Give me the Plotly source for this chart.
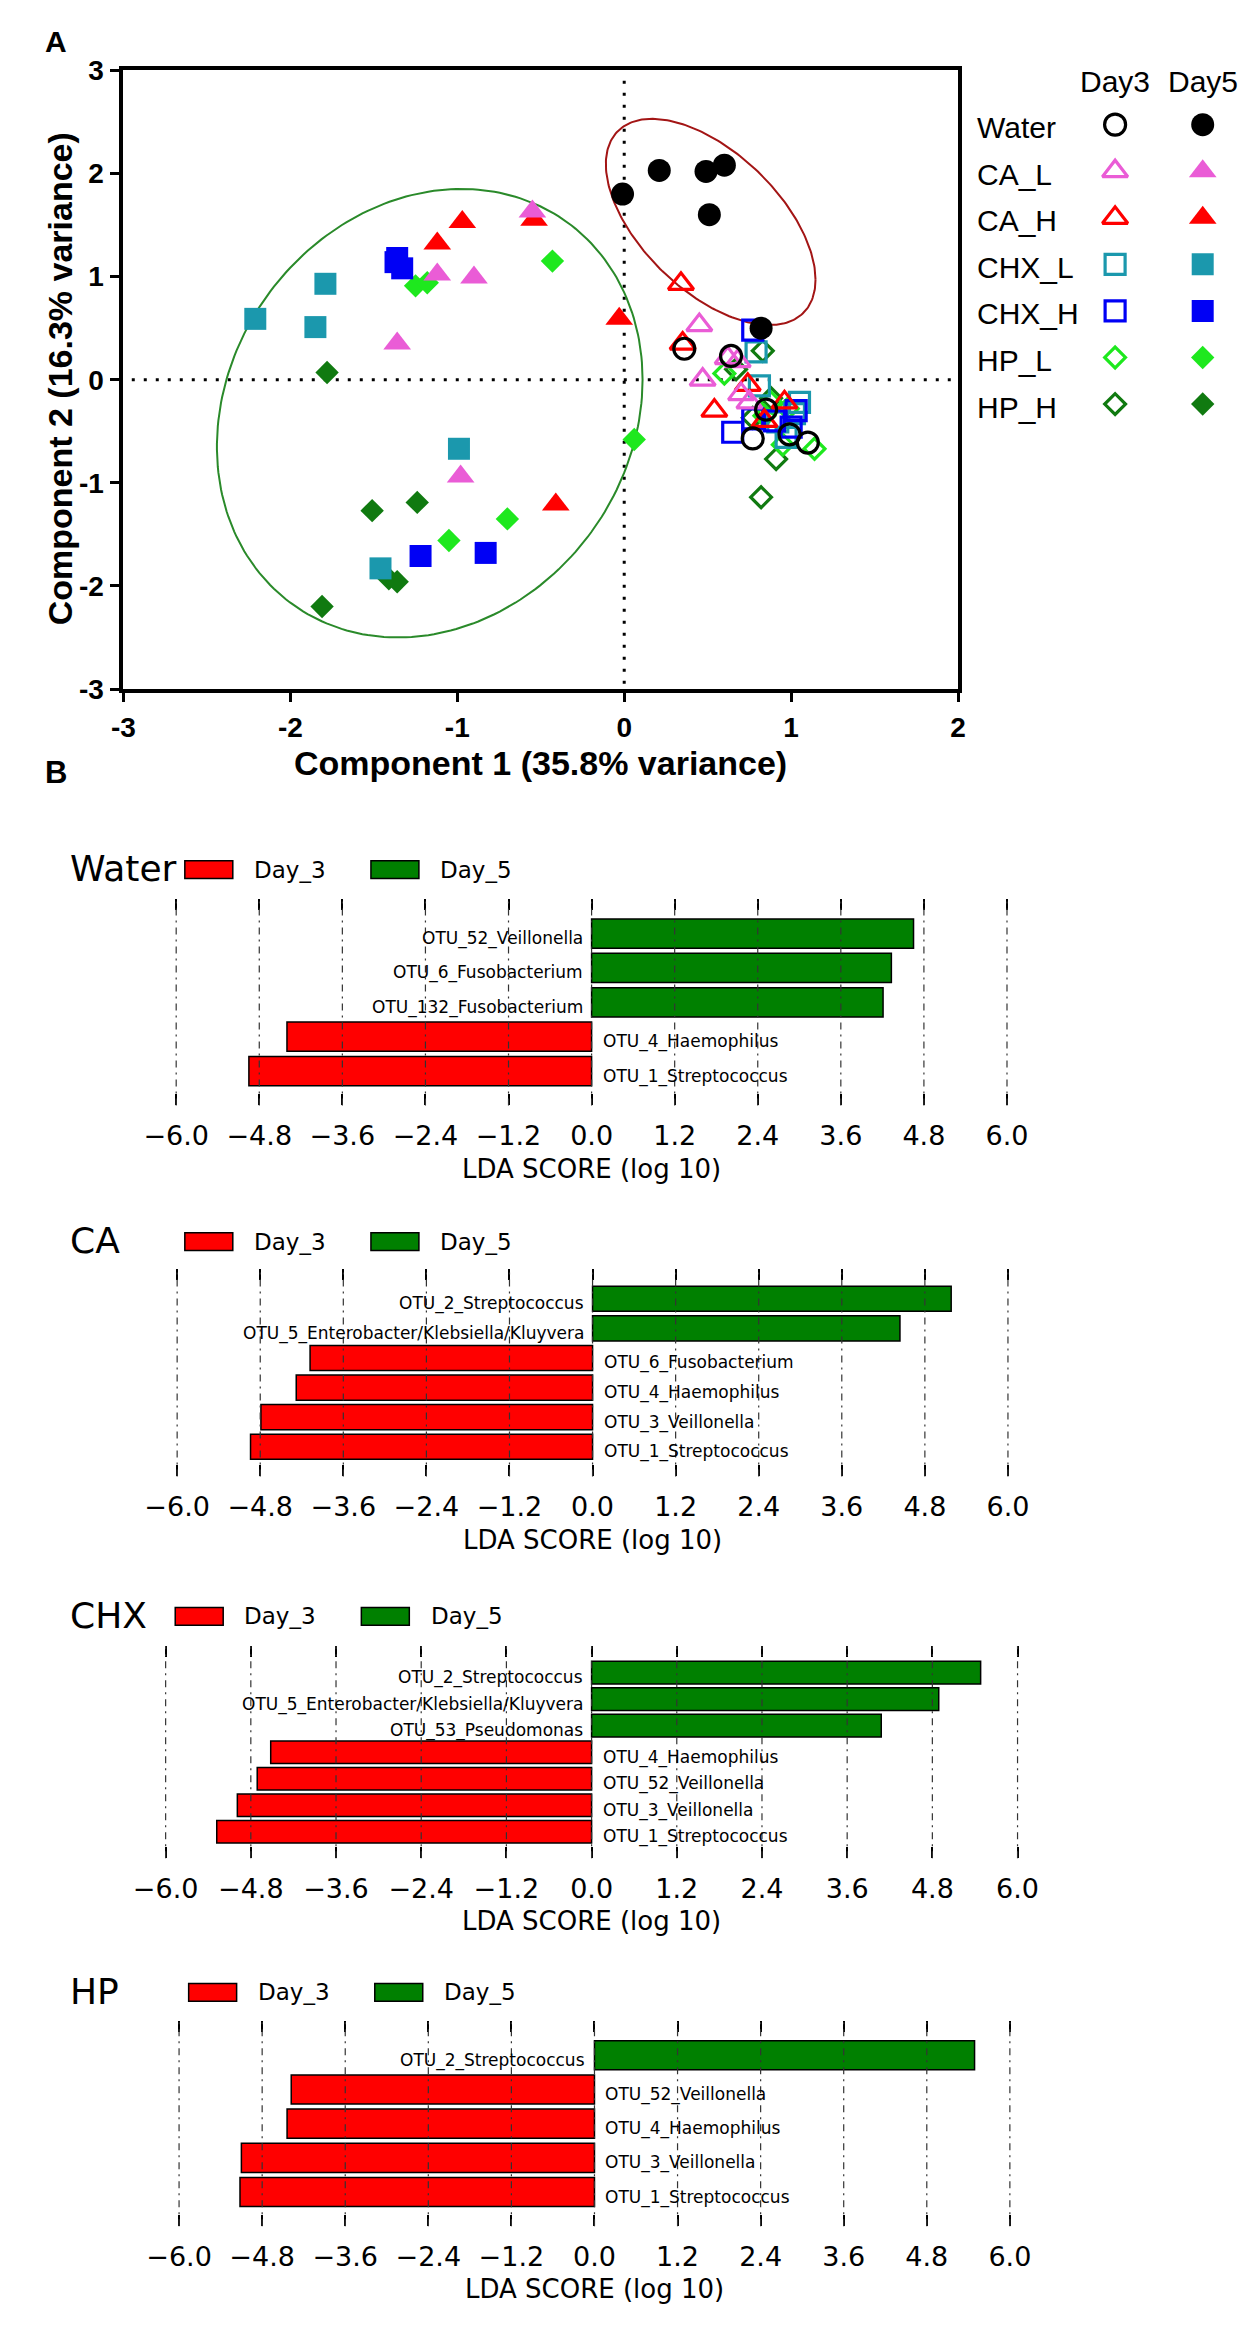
import numpy as np
import plotly.graph_objects as go

W, H = 1255, 2328

# ---------------- Panel A data (PCA scores) ----------------
GROUPS = ["Water", "CA_L", "CA_H", "CHX_L", "CHX_H", "HP_L", "HP_H"]
GROUP_COLORS = ["#000000", "#EA5CD6", "#FF0000", "#1B98AD", "#0000F5", "#1EE81E", "#107A10"]
GROUP_SYMBOLS = ["circle", "triangle-up", "triangle-up", "square", "square", "diamond", "diamond"]
DAYS = ["Day3", "Day5"]

water_d3_x = [0.36, 0.64, 0.85, 0.77, 0.99, 1.10]
water_d3_y = [0.30, 0.23, -0.29, -0.57, -0.53, -0.61]
water_d5_x = [-0.01, 0.21, 0.49, 0.60, 0.51, 0.82]
water_d5_y = [1.80, 2.03, 2.02, 2.08, 1.60, 0.50]

cal_d3_x = [0.45, 0.47, 0.62, 0.70, 0.75, 0.68]
cal_d3_y = [0.53, 0.00, 0.21, -0.14, -0.22, 0.18]
cal_d5_x = [-0.55, -1.12, -0.90, -1.36, -0.98]
cal_d5_y = [1.63, 1.02, 0.99, 0.35, -0.94]

cah_d3_x = [0.34, 0.35, 0.54, 0.96, 0.84, 0.74]
cah_d3_y = [0.93, 0.35, -0.30, -0.22, -0.40, -0.05]
cah_d5_x = [-0.97, -1.12, -0.54, -0.03, -0.41]
cah_d5_y = [1.53, 1.32, 1.55, 0.59, -1.21]

chxl_d3_x = [0.79, 0.81, 1.05, 0.92, 0.97, 1.02]
chxl_d3_y = [0.27, -0.06, -0.22, -0.41, -0.56, -0.33]
chxl_d5_x = [-2.21, -1.79, -1.85, -0.99, -1.46]
chxl_d5_y = [0.59, 0.93, 0.51, -0.67, -1.83]

chxh_d3_x = [0.77, 0.65, 1.03, 0.77, 1.00, 0.90]
chxh_d3_y = [0.48, -0.51, -0.30, -0.38, -0.46, -0.40]
chxh_d5_x = [-1.36, -1.33, -1.37, -1.22, -0.83]
chxh_d5_y = [1.18, 1.08, 1.14, -1.71, -1.68]

hpl_d3_x = [0.60, 1.14, 0.95, 0.88, 0.98, 0.84]
hpl_d3_y = [0.06, -0.67, -0.63, -0.22, -0.28, -0.35]
hpl_d5_x = [-1.25, -1.18, -0.43, 0.06, -1.05, -0.70]
hpl_d5_y = [0.91, 0.94, 1.15, -0.58, -1.56, -1.35]

hph_d3_x = [0.83, 0.67, 0.91, 0.82, 0.77, 0.88]
hph_d3_y = [0.28, 0.10, -0.77, -1.14, -0.37, -0.18]
hph_d5_x = [-1.78, -1.51, -1.24, -1.41, -1.36, -1.81]
hph_d5_y = [0.07, -1.27, -1.19, -1.93, -1.96, -2.20]

# confidence ellipses: center x, center y, radius x, radius y, phase
ellipse_green = [-1.165, -0.325, 1.275, 2.175, 0.15]
ellipse_red = [0.518, 1.53, 0.628, 1.0, -0.594]

PCA_X_TICKS = [-3, -2, -1, 0, 1, 2]
PCA_X_LABELS = ["-3", "-2", "-1", "0", "1", "2"]
PCA_Y_TICKS = [-3, -2, -1, 0, 1, 2, 3]
PCA_Y_LABELS = ["-3", "-2", "-1", "0", "1", "2", "3"]

# ---------------- Panel B data (LEfSe LDA scores) ----------------
water_labels = ["OTU_52_Veillonella", "OTU_6_Fusobacterium", "OTU_132_Fusobacterium",
                "OTU_4_Haemophilus", "OTU_1_Streptococcus"]
water_scores = [4.65, 4.33, 4.21, -4.40, -4.95]

ca_labels = ["OTU_2_Streptococcus", "OTU_5_Enterobacter/Klebsiella/Kluyvera", "OTU_6_Fusobacterium",
             "OTU_4_Haemophilus", "OTU_3_Veillonella", "OTU_1_Streptococcus"]
ca_scores = [5.18, 4.44, -4.08, -4.28, -4.79, -4.94]

chx_labels = ["OTU_2_Streptococcus", "OTU_5_Enterobacter/Klebsiella/Kluyvera", "OTU_53_Pseudomonas",
              "OTU_4_Haemophilus", "OTU_52_Veillonella", "OTU_3_Veillonella", "OTU_1_Streptococcus"]
chx_scores = [5.48, 4.89, 4.08, -4.52, -4.71, -4.99, -5.28]

hp_labels = ["OTU_2_Streptococcus", "OTU_52_Veillonella", "OTU_4_Haemophilus",
             "OTU_3_Veillonella", "OTU_1_Streptococcus"]
hp_scores = [5.49, -4.38, -4.44, -5.10, -5.12]

LDA_TICKS = [-6.0, -4.8, -3.6, -2.4, -1.2, 0.0, 1.2, 2.4, 3.6, 4.8, 6.0]
LDA_TICK_LABELS = ["\u22126.0", "\u22124.8", "\u22123.6", "\u22122.4", "\u22121.2", "0.0",
                   "1.2", "2.4", "3.6", "4.8", "6.0"]
PANEL_NAMES = ["Water", "CA", "CHX", "HP"]
CLASS_NAMES = ["Day_3", "Day_5"]
CLASS_COLORS = ["#FF0000", "#008000"]

# ---------------- helpers ----------------
def fx(px):
    return px / W

def fy(py):
    return 1 - py / H

ARIAL = "Liberation Sans, Arial, sans-serif"
DEJAVU = "DejaVu Sans, sans-serif"

fig = go.Figure()

# ---------------- Panel A ----------------
SIZE = {"circle": 23, "triangle-up": 24, "square": 22, "diamond": 18}

for e, col in ((ellipse_green, "#2A8A2A"), (ellipse_red, "#A31515")):
    t = np.linspace(0, 2 * np.pi, 240)
    fig.add_trace(go.Scatter(x=e[0] + e[2] * np.cos(t), y=e[1] + e[3] * np.sin(t + e[4]),
                             mode="lines", line=dict(color=col, width=2),
                             hoverinfo="skip", showlegend=False, xaxis="x", yaxis="y"))

group_points = {
    "Water": (water_d3_x, water_d3_y, water_d5_x, water_d5_y),
    "CA_L": (cal_d3_x, cal_d3_y, cal_d5_x, cal_d5_y),
    "CA_H": (cah_d3_x, cah_d3_y, cah_d5_x, cah_d5_y),
    "CHX_L": (chxl_d3_x, chxl_d3_y, chxl_d5_x, chxl_d5_y),
    "CHX_H": (chxh_d3_x, chxh_d3_y, chxh_d5_x, chxh_d5_y),
    "HP_L": (hpl_d3_x, hpl_d3_y, hpl_d5_x, hpl_d5_y),
    "HP_H": (hph_d3_x, hph_d3_y, hph_d5_x, hph_d5_y),
}


def open_marker(sym, col):
    return dict(symbol=sym + "-open", size=SIZE[sym] - 2, color=col, line=dict(color=col, width=3.2))


def filled_marker(sym, col):
    return dict(symbol=sym, size=SIZE[sym], color=col, line=dict(width=0))


draw_order = ["HP_H", "HP_L", "CHX_L", "CHX_H", "CA_H", "CA_L", "Water"]
for day in (0, 1):
    for g in draw_order:
        gi = GROUPS.index(g)
        col, sym = GROUP_COLORS[gi], GROUP_SYMBOLS[gi]
        px_, py_ = group_points[g][2 * day], group_points[g][2 * day + 1]
        mk = open_marker(sym, col) if day == 0 else filled_marker(sym, col)
        fig.add_trace(go.Scatter(x=px_, y=py_, mode="markers", marker=mk, name=g + " " + DAYS[day],
                                 showlegend=False, xaxis="x", yaxis="y", cliponaxis=False))

# legend of panel A (own axes, markers at category indices)
for gi, g in enumerate(GROUPS):
    col, sym = GROUP_COLORS[gi], GROUP_SYMBOLS[gi]
    fig.add_trace(go.Scatter(x=[0], y=[gi], mode="markers", xaxis="x2", yaxis="y2", showlegend=False,
                             marker=open_marker(sym, col), hoverinfo="skip"))
    fig.add_trace(go.Scatter(x=[1], y=[gi], mode="markers", xaxis="x2", yaxis="y2", showlegend=False,
                             marker=filled_marker(sym, col), hoverinfo="skip"))

annotations = []
shapes = []

for di, d in enumerate(DAYS):
    annotations.append(dict(x=di, y=-0.93, xref="x2", yref="y2", text=d, showarrow=False,
                            font=dict(family=ARIAL, size=30, color="black"), xanchor="center", yanchor="middle"))
for gi, g in enumerate(GROUPS):
    annotations.append(dict(x=fx(976), y=gi, xref="paper", yref="y2", text=g, showarrow=False,
                            font=dict(family=ARIAL, size=30, color="black"), xanchor="left", yanchor="middle",
                            yshift=-3))

# dotted zero lines
shapes.append(dict(type="line", xref="x", yref="y", x0=0, x1=0, y0=-2.95, y1=2.95,
                   line=dict(color="black", width=3, dash="3px,9px"), layer="below"))
shapes.append(dict(type="line", xref="x", yref="y", x0=-2.95, x1=2, y0=0, y1=0,
                   line=dict(color="black", width=3, dash="3px,9px"), layer="below"))

annotations += [
    dict(x=fx(4), y=fy(19), xref="paper", yref="paper", text="<b>A</b>", showarrow=False,
         font=dict(family=ARIAL, size=30, color="black"), xanchor="left", yanchor="middle"),
    dict(x=fx(4), y=fy(760), xref="paper", yref="paper", text="<b>B</b>", showarrow=False,
         font=dict(family=ARIAL, size=31, color="black"), xanchor="left", yanchor="middle"),
    dict(x=fx(523), y=fy(750), xref="paper", yref="paper", text="<b>Component 1 (35.8% variance)</b>",
         showarrow=False, font=dict(family=ARIAL, size=34, color="black"), xanchor="center", yanchor="middle"),
    dict(x=fx(22), y=fy(361), xref="paper", yref="paper", text="<b>Component 2 (16.3% variance)</b>",
         showarrow=False, textangle=-90, font=dict(family=ARIAL, size=34, color="black"),
         xanchor="center", yanchor="middle"),
]

tick_font_a = dict(family=ARIAL, size=28, color="black", weight="bold")
layout = dict(
    width=W, height=H, margin=dict(l=0, r=0, t=0, b=0),
    paper_bgcolor="white", plot_bgcolor="rgba(0,0,0,0)", showlegend=False,
    barmode="overlay", bargap=0.15,
    xaxis=dict(domain=[fx(88), fx(958)], range=[-3, 2], anchor="y", tickvals=PCA_X_TICKS,
               ticktext=["<b>%s</b>" % s for s in PCA_X_LABELS],
               showline=True, linewidth=4, linecolor="black", mirror=True, ticks="outside",
               ticklen=9, tickwidth=3, tickcolor="black", showgrid=False, zeroline=False,
               tickfont=tick_font_a, ticklabelstandoff=1),
    yaxis=dict(domain=[fy(675), fy(48)], range=[-3, 3], anchor="x", tickvals=PCA_Y_TICKS,
               ticktext=["<b>%s</b>" % s for s in PCA_Y_LABELS],
               showline=True, linewidth=4, linecolor="black", mirror=True, ticks="outside",
               ticklen=9, tickwidth=3, tickcolor="black", showgrid=False, zeroline=False,
               tickfont=tick_font_a, ticklabelstandoff=1),
    xaxis2=dict(domain=[fx(966), 1], range=[-1.705, 1.46], anchor="y2", visible=False),
    yaxis2=dict(domain=[fy(420), fy(40)], range=[6.716, -1.335], anchor="x2", visible=False),
)

# ---------------- Panel B ----------------
panels = [
    # name, labels, scores, x(-6) px, x(6) px, top px, bottom px, title y px, legend dx
    ("Water", water_labels, water_scores, 143, 1009, 888, 1097, 858, 0),
    ("CA", ca_labels, ca_scores, 144, 1010, 1263, 1473, 1235, 0),
    ("CHX", chx_labels, chx_scores, 132, 1020, 1645, 1860, 1615, -10),
    ("HP", hp_labels, hp_scores, 146, 1012, 2025, 2233, 1996, 4),
]

for k, (name, labels, scores, pl, pr, top, bot, ty, dx) in enumerate(panels):
    ax = k + 3
    xa, ya = "x%d" % ax, "y%d" % ax
    n = len(labels)
    idx = list(range(n))
    for ci, cname in enumerate(CLASS_NAMES):
        sel = [i for i in idx if (scores[i] < 0) == (ci == 0)]
        fig.add_trace(go.Bar(x=[scores[i] for i in sel], y=sel, orientation="h", name=cname,
                             marker=dict(color=CLASS_COLORS[ci], line=dict(color="black", width=1.5)),
                             xaxis=xa, yaxis=ya, showlegend=False, hoverinfo="skip"))
    ppu = (pr - pl) / 12.0
    layout["xaxis%d" % ax] = dict(
        domain=[fx(pl - 0.02 * ppu), fx(pr + 0.02 * ppu)], range=[-6.02, 6.02], anchor=ya,
        tickvals=LDA_TICKS, ticktext=LDA_TICK_LABELS, ticks="inside", ticklen=11, tickwidth=1.5,
        tickcolor="black", mirror="ticks", showline=True, linecolor="rgba(0,0,0,0)", linewidth=1,
        showgrid=False, zeroline=False,
        tickfont=dict(family=DEJAVU, size=27, color="black"), ticklabelstandoff=6)
    layout["yaxis%d" % ax] = dict(domain=[fy(bot), fy(top)], range=[n, -1], anchor=xa,
                                  showticklabels=False, showgrid=False, zeroline=False,
                                  showline=False, ticks="")
    # dash-dot grid lines above the bars
    for tv in LDA_TICKS:
        shapes.append(dict(type="line", xref=xa, yref=ya + " domain", x0=tv, x1=tv, y0=0, y1=1,
                           line=dict(color="#333333", width=1.2, dash="7px,5px,2px,5px"), layer="above"))
    # feature labels next to the zero line
    for i, (lab, val) in enumerate(zip(labels, scores)):
        annotations.append(dict(x=0, y=i, xref=xa, yref=ya, text=lab, showarrow=False,
                                font=dict(family=DEJAVU, size=17, color="black"),
                                xanchor="right" if val > 0 else "left",
                                xshift=-7 if val > 0 else 9, yshift=-5, yanchor="middle"))
    # title and class legend
    annotations.append(dict(x=fx(30), y=fy(ty - 1), xref="paper", yref="paper", text=name, showarrow=False,
                            font=dict(family=DEJAVU, size=36, color="black"), xanchor="left", yanchor="middle"))
    for ci, cname in enumerate(CLASS_NAMES):
        x0 = 152 + dx + ci * 194
        shapes.append(dict(type="rect", xref="paper", yref="paper", x0=fx(x0), x1=fx(x0 + 50),
                           y0=fy(ty + 9), y1=fy(ty - 9), fillcolor=CLASS_COLORS[ci],
                           line=dict(color="black", width=1.5)))
        annotations.append(dict(x=fx(x0 + 70), y=fy(ty), xref="paper", yref="paper", text=cname,
                                showarrow=False, font=dict(family=DEJAVU, size=23, color="black"),
                                xanchor="left", yanchor="middle"))
    annotations.append(dict(x=0, xref=xa, y=fy(bot + 64), yref="paper", text="LDA SCORE (log 10)",
                            showarrow=False, font=dict(family=DEJAVU, size=26, color="black"),
                            xanchor="center", yanchor="middle"))

layout["annotations"] = annotations
layout["shapes"] = shapes
fig.update_layout(**layout)

fig.write_html("out.html")
